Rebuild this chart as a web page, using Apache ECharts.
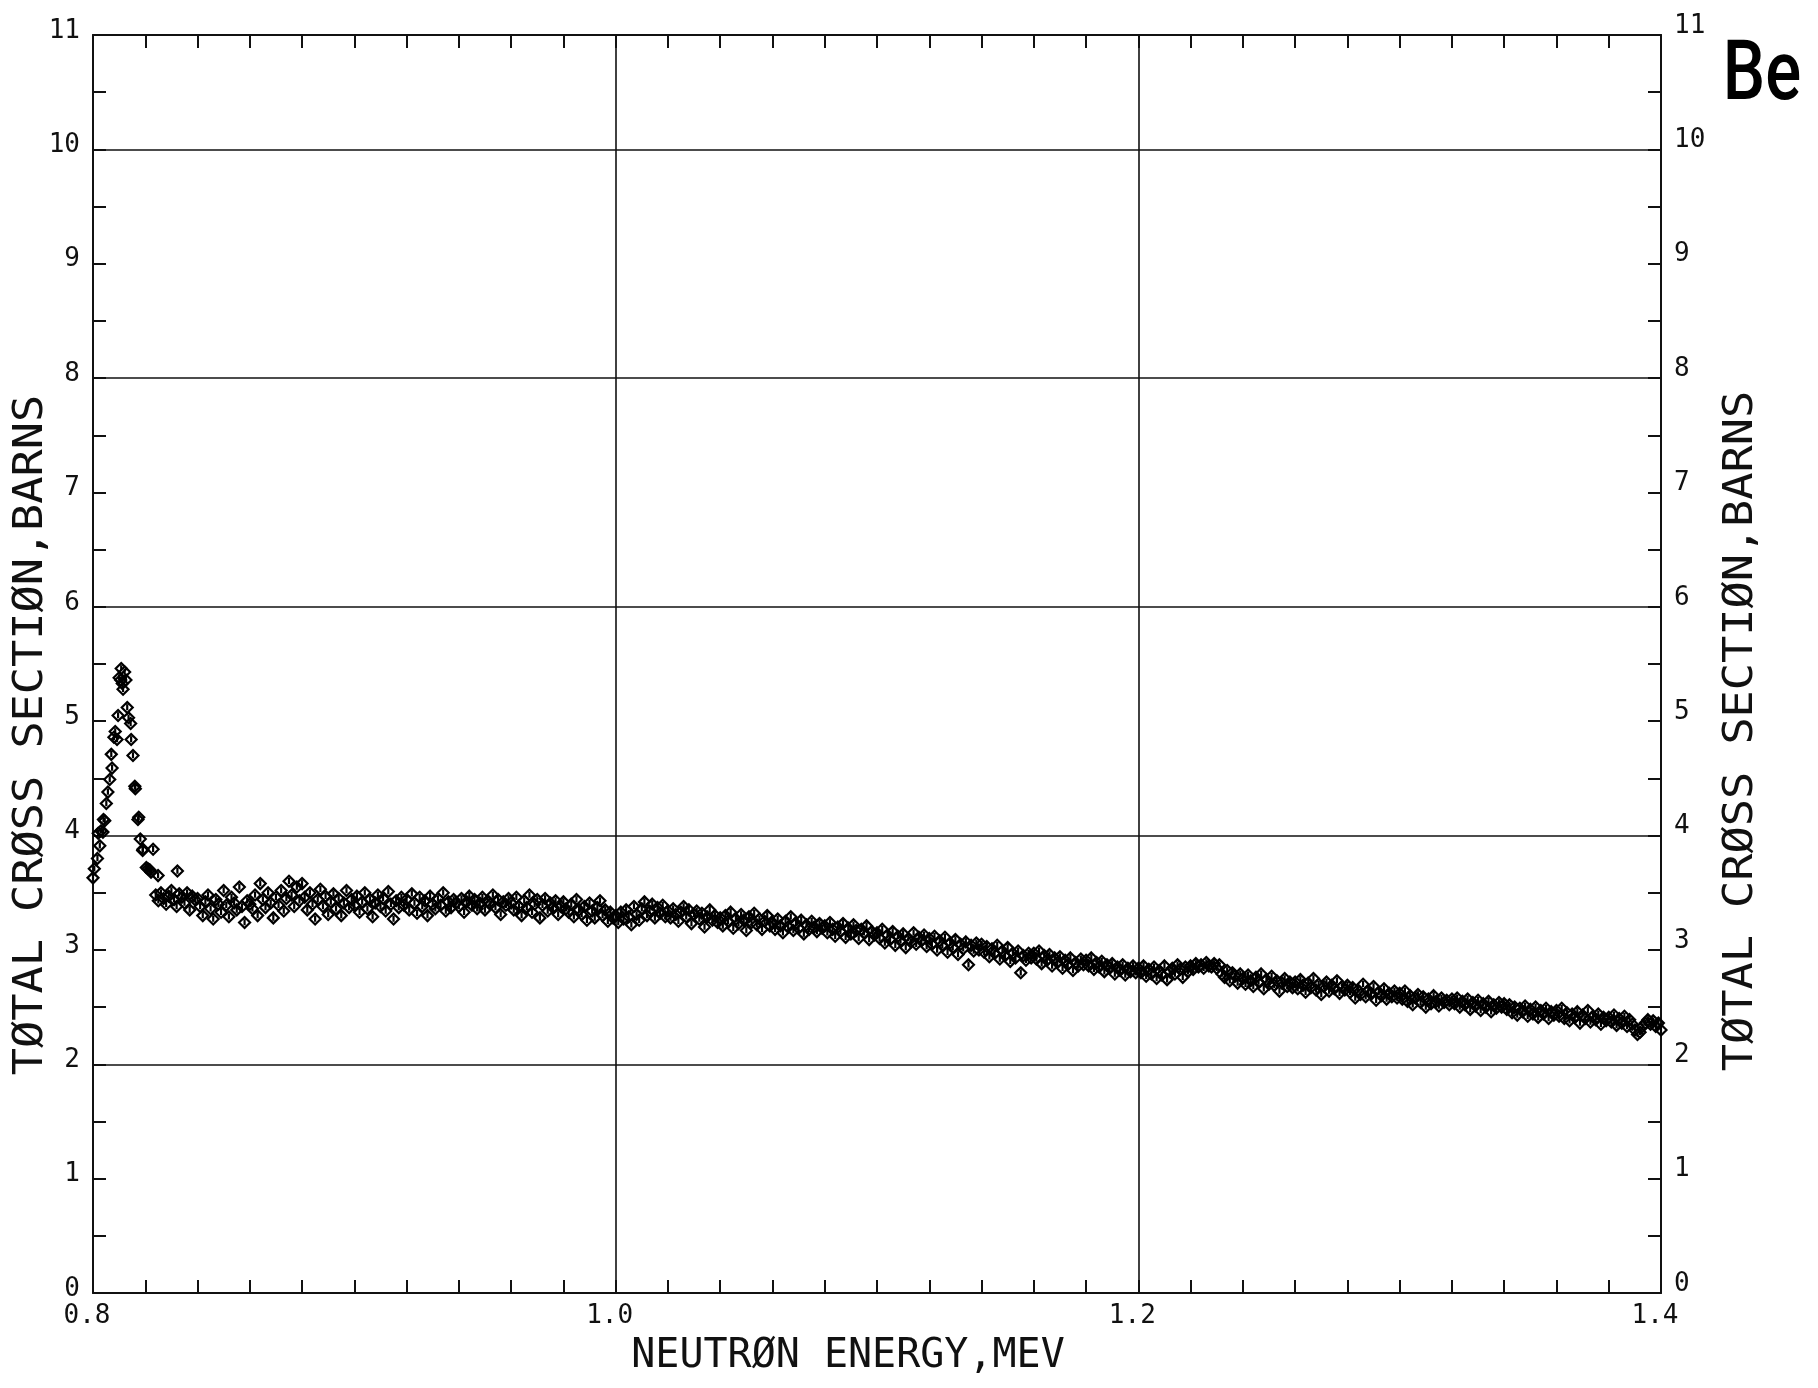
<!DOCTYPE html>
<html>
<head>
<meta charset="utf-8">
<script src="https://cdn.jsdelivr.net/npm/echarts@6/dist/echarts.min.js"></script>
<style>html,body{margin:0;padding:0;background:#fff;}#c{width:1818px;height:1388px;}</style>
</head>
<body>
<div id="c"></div>
<script>
// ---- data ----
const xTickLabels = ['0.8', '1.0', '1.2', '1.4'];
const yTickLabels = ['0','1','2','3','4','5','6','7','8','9','10','11'];

// resonance region (energy MeV, cross section barns)
const peakEnergy = [0.8000,0.8005,0.8017,0.8026,0.8020,0.8030,0.8038,0.8040,0.8045,0.8051,0.8057,0.8064,0.8073,0.8070,0.8080,0.8085,0.8092,0.8096,0.8100,0.8106,0.8108,0.8112,0.8115,0.8121,0.8126,0.8131,0.8136,0.8144,0.8146,0.8153,0.8160,0.8162,0.8172,0.8175,0.8181,0.8190,0.8191,0.8204,0.8210,0.8217,0.8222,0.8230,0.8249,0.8323];
const peakSigma  = [3.63,3.71,3.80,3.91,4.02,4.04,4.03,4.14,4.13,4.28,4.38,4.49,4.59,4.71,4.86,4.91,4.84,5.05,5.38,5.36,5.46,5.33,5.28,5.43,5.36,5.12,5.03,4.98,4.84,4.70,4.43,4.41,4.14,4.16,3.97,3.87,3.88,3.72,3.71,3.70,3.68,3.88,3.65,3.69];

// smooth region: measured on a 1 keV grid starting at 0.824 MeV
const bandStart = 0.824;
const bandStep = 0.001;
const bandSigma = [
3.48,3.43,3.50,3.45,3.40,3.47,3.52,3.44,3.38,3.49,3.46,3.41,3.50,3.35,3.47,3.44,
3.45,3.38,3.30,3.42,3.48,3.36,3.27,3.44,3.40,3.33,3.52,3.39,3.29,3.46,3.41,3.35,3.55,3.38,3.24,3.43,
3.40,3.36,3.48,3.30,3.58,3.44,3.37,3.50,3.41,3.28,3.46,3.39,3.52,3.34,3.45,3.60,3.48,3.38,3.55,3.43,
3.58,3.46,3.35,3.50,3.40,3.27,3.44,3.53,3.38,3.47,3.31,3.42,3.49,3.36,3.45,3.30,3.41,3.52,3.37,3.44,
3.39,3.47,3.33,3.42,3.50,3.36,3.44,3.29,3.41,3.48,3.38,3.45,3.34,3.51,3.40,3.27,3.43,3.37,3.46,3.39,
3.44,3.35,3.49,3.41,3.32,3.46,3.38,3.43,3.30,3.47,3.40,3.36,3.45,3.39,3.50,3.34,3.42,3.37,3.44,3.41,
3.38,3.45,3.33,3.42,3.47,3.39,3.44,3.36,3.41,3.46,3.35,3.43,3.40,3.48,3.37,3.44,3.31,3.42,3.39,3.45,
3.41,3.35,3.46,3.38,3.30,3.43,3.37,3.48,3.33,3.40,3.44,3.28,3.39,3.45,3.34,3.41,3.37,3.43,3.31,3.38,
3.42,3.36,3.33,3.40,3.29,3.44,3.35,3.31,3.38,3.26,3.41,3.34,3.28,3.37,3.43,3.30,3.35,3.25,3.33,3.28,
3.30,3.24,3.33,3.27,3.35,3.29,3.22,3.38,3.31,3.26,3.36,3.42,3.30,3.34,3.40,3.28,3.37,3.32,3.39,3.29,
3.34,3.28,3.36,3.31,3.25,3.33,3.38,3.29,3.35,3.23,3.31,3.34,3.27,3.32,3.20,3.29,3.35,3.26,3.30,3.24,
3.28,3.21,3.30,3.25,3.33,3.19,3.27,3.23,3.31,3.26,3.17,3.29,3.24,3.32,3.22,3.27,3.18,3.25,3.30,3.21,
3.24,3.18,3.27,3.21,3.15,3.25,3.20,3.29,3.17,3.23,3.19,3.26,3.14,3.22,3.18,3.25,3.20,3.16,3.23,3.19,
3.21,3.15,3.24,3.18,3.12,3.20,3.16,3.23,3.11,3.19,3.14,3.22,3.17,3.10,3.18,3.15,3.21,3.09,3.16,3.13,
3.15,3.10,3.18,3.06,3.13,3.09,3.16,3.04,3.12,3.08,3.14,3.02,3.10,3.07,3.15,3.05,3.11,3.08,3.13,3.03,
3.10,3.05,3.12,3.00,3.08,3.04,3.11,2.98,3.06,3.02,3.09,2.96,3.05,3.01,3.07,2.87,3.04,2.99,3.06,3.00,
3.05,2.98,3.03,2.94,3.01,2.97,3.04,2.92,2.99,2.95,3.02,2.90,2.97,2.93,2.99,2.80,2.95,2.91,2.97,2.93,
2.97,2.92,2.99,2.88,2.95,2.91,2.96,2.86,2.93,2.89,2.94,2.84,2.91,2.87,2.93,2.82,2.89,2.86,2.92,2.87,
2.91,2.86,2.93,2.83,2.89,2.85,2.90,2.81,2.87,2.84,2.88,2.79,2.85,2.82,2.87,2.78,2.84,2.81,2.86,2.80,
2.84,2.80,2.86,2.77,2.83,2.79,2.85,2.75,2.82,2.78,2.86,2.74,2.81,2.84,2.79,2.87,2.83,2.76,2.85,2.81,
2.86,2.83,2.88,2.85,2.87,2.84,2.89,2.86,2.85,2.88,2.84,2.87,2.79,2.76,2.82,2.73,2.80,2.77,2.71,2.79,
2.75,2.70,2.78,2.73,2.68,2.76,2.72,2.79,2.66,2.74,2.70,2.77,2.69,2.73,2.64,2.71,2.75,2.68,2.72,2.67,
2.72,2.66,2.74,2.69,2.63,2.71,2.67,2.75,2.65,2.70,2.61,2.68,2.72,2.64,2.69,2.66,2.73,2.62,2.68,2.65,
2.69,2.63,2.67,2.58,2.65,2.61,2.70,2.59,2.64,2.62,2.68,2.56,2.63,2.60,2.66,2.57,2.62,2.59,2.64,2.58,
2.62,2.57,2.64,2.55,2.60,2.52,2.58,2.61,2.54,2.59,2.50,2.57,2.53,2.60,2.55,2.51,2.58,2.54,2.56,2.52,
2.57,2.53,2.58,2.50,2.55,2.52,2.57,2.48,2.54,2.51,2.56,2.47,2.53,2.50,2.55,2.46,2.52,2.49,2.54,2.50,
2.53,2.48,2.52,2.45,2.50,2.43,2.49,2.46,2.51,2.42,2.48,2.44,2.50,2.41,2.47,2.44,2.49,2.40,2.46,2.43,
2.47,2.42,2.49,2.40,2.45,2.38,2.44,2.41,2.46,2.36,2.43,2.40,2.47,2.37,2.42,2.39,2.44,2.35,2.41,2.38,
2.41,2.37,2.43,2.34,2.40,2.36,2.42,2.33,2.39,2.35,2.30,2.26,2.28,2.33,2.36,2.39,2.35,2.38,2.33,2.36,2.30
];

// ---- build chart ----
const points = [];
for (let i = 0; i < peakEnergy.length; i++) points.push([peakEnergy[i], peakSigma[i]]);
for (let i = 0; i < bandSigma.length; i++) points.push([+(bandStart + i * bandStep).toFixed(4), bandSigma[i]]);

const INK = '#111';
const mono = '"DejaVu Sans Mono", "Liberation Mono", monospace';
const lineW = 2;

const chart = echarts.init(document.getElementById('c'), null, { renderer: 'canvas' });

const baseX = {
  type: 'value', min: 0.8, max: 1.4, interval: 0.2,
  axisLine: { show: true, onZero: false, lineStyle: { color: INK, width: lineW } },
  axisTick: { show: true, inside: true, length: 13, lineStyle: { color: INK, width: lineW } },
  minorTick: { show: true, splitNumber: 10, length: 13, lineStyle: { color: INK, width: lineW } },
  splitLine: { show: false }, minorSplitLine: { show: false }
};
const baseY = {
  type: 'value', min: 0, max: 11, interval: 1,
  axisLine: { show: true, onZero: false, lineStyle: { color: INK, width: lineW } },
  axisTick: { show: true, inside: true, length: 13, lineStyle: { color: INK, width: lineW } },
  minorTick: { show: true, splitNumber: 2, length: 13, lineStyle: { color: INK, width: lineW } },
  splitLine: { show: false }
};

const option = {
  animation: false,
  backgroundColor: '#fff',
  grid: { left: 93, right: 157, top: 35, bottom: 95, containLabel: false },
  xAxis: [
    Object.assign({}, baseX, {
      position: 'bottom',
      splitLine: { show: true, lineStyle: { color: INK, width: 1.6 } },
      axisLabel: {
        show: true, margin: 10, color: INK, fontFamily: mono, fontSize: 26,
        padding: [0, 12, 0, 0],
        formatter: function (v) { const s = v.toFixed(1); return xTickLabels.indexOf(s) >= 0 ? s : ''; }
      }
    }),
    Object.assign({}, baseX, { position: 'top', axisLabel: { show: false } })
  ],
  yAxis: [
    Object.assign({}, baseY, {
      position: 'left',
      axisLabel: {
        show: true, margin: 13, color: INK, fontFamily: mono, fontSize: 26,
        verticalAlign: 'bottom', lineHeight: 8,
        formatter: function (v) { const s = String(Math.round(v)); return yTickLabels.indexOf(s) >= 0 ? s : ''; }
      }
    }),
    Object.assign({}, baseY, {
      position: 'right',
      axisLabel: {
        show: true, margin: 13, color: INK, fontFamily: mono, fontSize: 26,
        verticalAlign: 'bottom', lineHeight: 18,
        formatter: function (v) { const s = String(Math.round(v)); return yTickLabels.indexOf(s) >= 0 ? s : ''; }
      }
    }),
    {
      type: 'value', min: 0, max: 11, interval: 2, position: 'left',
      axisLine: { show: false }, axisTick: { show: false }, axisLabel: { show: false },
      splitLine: { show: true, lineStyle: { color: INK, width: 1.6 } }
    }
  ],
  series: [{
    type: 'scatter',
    xAxisIndex: 0, yAxisIndex: 0,
    data: points,
    symbol: 'path://M0,-10L10,0L0,10L-10,0Z M0,-6L0,5',
    symbolSize: 11,
    itemStyle: { color: 'rgba(0,0,0,0)', borderColor: '#000', borderWidth: 2.2, opacity: 1 },
    clip: false,
    silent: true
  }],
  graphic: [
    {
      type: 'text', x: 848, y: 1357,
      style: { text: 'NEUTRØN ENERGY,MEV', fill: INK, font: '40px ' + mono, align: 'center', verticalAlign: 'middle' }
    },
    {
      type: 'text', x: 32, y: 735, rotation: Math.PI / 2, scaleX: 1.13,
      style: { text: 'TØTAL CRØSS SECTIØN,BARNS', fill: INK, font: '40px ' + mono, align: 'center', verticalAlign: 'middle' }
    },
    {
      type: 'text', x: 1762, y: 78, scaleX: 0.8,
      style: { text: 'Be', fill: '#000', fontFamily: 'Roboto', fontSize: 84, fontWeight: 500, align: 'center', verticalAlign: 'middle' }
    },
    {
      type: 'text', x: 1742, y: 731, rotation: Math.PI / 2, scaleX: 1.13,
      style: { text: 'TØTAL CRØSS SECTIØN,BARNS', fill: INK, font: '40px ' + mono, align: 'center', verticalAlign: 'middle' }
    }
  ]
};
chart.setOption(option);
</script>
</body>
</html>
